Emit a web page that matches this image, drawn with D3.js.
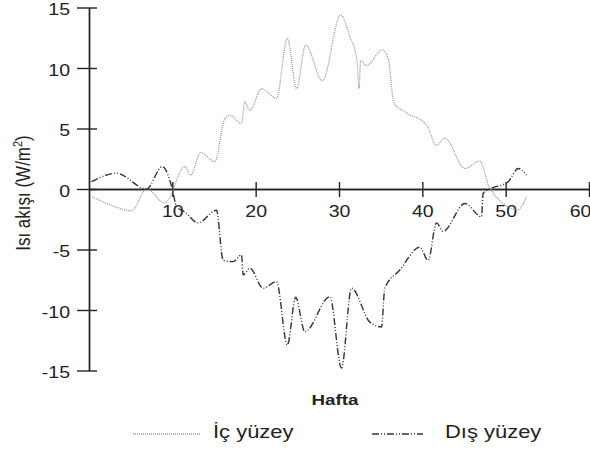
<!DOCTYPE html>
<html>
<head>
<meta charset="utf-8">
<script src="https://cdn.jsdelivr.net/npm/d3@7"></script>
<style>
  body { margin: 0; background: #fff; }
  text { font-family: "Liberation Sans", Arial, sans-serif; fill: #222; }
</style>
</head>
<body>
<div id="chart"></div>
<script>
// week positions and values
var innerWeeks = [0.4, 2.5, 5.1, 6.9, 9.1, 11.5, 12.2, 13.4, 15.1, 16.3, 16.9, 18.3, 18.7, 19.3, 20.7, 22.5, 23.8, 24.9, 26.0, 28.0, 30.2, 31.3, 32.15, 32.4, 32.6, 33.3, 35.2, 35.9, 36.6, 38.1, 40.5, 41.7, 42.7, 45.1, 46.9, 48.1, 51.5, 52.5];
var innerVals  = [-0.66, -1.3, -1.8, 0, -1.15, 1.85, 1.15, 3.0, 2.26, 5.8, 6.1, 5.4, 7.2, 6.5, 8.3, 7.5, 12.45, 8.3, 11.9, 8.95, 14.4, 12.6, 10.7, 8.3, 10.6, 10.2, 11.5, 10.8, 7.1, 6.3, 5.3, 3.6, 4.2, 1.7, 2.3, 0.05, -1.7, -0.6];

var outerWeeks = [0.3, 3.3, 6.9, 8.8, 10.0, 10.5, 11.5, 13.1, 15.3, 16.1, 17.3, 18.3, 18.5, 19.3, 20.9, 22.5, 23.8, 24.8, 25.9, 28.9, 30.3, 31.5, 33.7, 35.1, 35.5, 37.3, 39.7, 40.7, 41.7, 42.5, 45.1, 47.1, 47.3, 48.1, 50.3, 51.5, 52.5];
var outerVals  = [0.6, 1.3, 0, 1.85, 0, -1.45, -1.9, -2.8, -1.75, -5.9, -6.0, -5.45, -7.1, -6.55, -8.2, -7.65, -12.9, -8.95, -11.8, -8.9, -14.8, -8.2, -11.0, -11.4, -8.2, -6.7, -4.8, -5.9, -2.8, -3.5, -1.2, -2.3, -0.35, 0, 0.6, 1.7, 1.15];

var xTicks = [10, 20, 30, 40, 50, 60];
var yTicks = [-15, -10, -5, 0, 5, 10, 15];
var seriesNames = ["İç yüzey", "Dış yüzey"];

function init() {
	var w = 590;
	var h = 450;
	var sx = 1.22; // text in the picture is a bit wide

	var xScale = d3.scaleLinear().domain([0, 60]).range([89, 589]);
	var yScale = d3.scaleLinear().domain([-15, 15]).range([370.5, 7.5]);

	var svg = d3.select("#chart")
				.append("svg")
				.attr("width", w)
				.attr("height", h);

	// y axis: labels on the left, short ticks on the right too
	var gy = svg.append("g")
		.attr("transform", "translate(" + xScale(0) + ",0)")
		.call(d3.axisLeft(yScale).tickValues(yTicks).tickSize(12).tickSizeOuter(0)
			.tickFormat(function(d) { return String(d); }));
	gy.selectAll("text")
		.attr("x", -19 / sx)
		.attr("dy", "0.45em")
		.attr("transform", "scale(" + sx + ",1)");
	svg.append("g")
		.attr("transform", "translate(" + xScale(0) + ",0)")
		.call(d3.axisRight(yScale).tickValues(yTicks).tickSize(8).tickSizeOuter(0).tickFormat(""));

	// x axis through zero
	var gx = svg.append("g")
		.attr("transform", "translate(0," + yScale(0) + ")")
		.call(d3.axisBottom(xScale).tickValues(xTicks).tickSize(8).tickSizeOuter(0));
	gx.selectAll("text")
		.attr("y", 28)
		.attr("dy", 0)
		.attr("x", function(d) { return d == 60 ? -9 / sx : 0; })
		.attr("transform", "scale(" + sx + ",1)");
	svg.append("g")
		.attr("transform", "translate(0," + yScale(0) + ")")
		.call(d3.axisTop(xScale).tickValues(xTicks).tickSize(7).tickSizeOuter(0).tickFormat(""));

	svg.selectAll(".domain, .tick line")
		.attr("stroke", "#222")
		.attr("stroke-width", 1.4);
	svg.selectAll(".tick text")
		.attr("font-size", 16)
		.attr("font-family", "Liberation Sans, Arial, sans-serif")
		.attr("fill", "#222");

	var line = d3.line()
		.x(function(d) { return xScale(d[0]); })
		.y(function(d) { return yScale(d[1]); })
		.curve(d3.curveMonotoneX);

	var innerData = d3.zip(innerWeeks, innerVals);
	var outerData = d3.zip(outerWeeks, outerVals);

	svg.append("path")
		.datum(innerData)
		.attr("d", line)
		.attr("fill", "none")
		.attr("stroke", "#999")
		.attr("stroke-width", 1.3)
		.attr("stroke-dasharray", "1,1");

	svg.append("path")
		.datum(outerData)
		.attr("d", line)
		.attr("fill", "none")
		.attr("stroke", "#333")
		.attr("stroke-width", 1.4)
		.attr("stroke-dasharray", "7,2,1,2,1,2");

	// axis titles
	svg.append("text")
		.attr("transform", "translate(335,405) scale(1.25,1)")
		.attr("text-anchor", "middle")
		.attr("font-size", 15)
		.attr("font-weight", "bold")
		.text("Hafta");

	var yt = svg.append("text")
		.attr("transform", "translate(30,193) rotate(-90) scale(1,1.15)")
		.attr("text-anchor", "middle")
		.attr("font-size", 17);
	yt.append("tspan").text("Isı akışı (W/m");
	yt.append("tspan").attr("font-size", 11).attr("dy", -7).text("2");
	yt.append("tspan").attr("dy", 7).text(")");

	// legend
	svg.append("line")
		.attr("x1", 133).attr("x2", 200).attr("y1", 434).attr("y2", 434)
		.attr("stroke", "#999").attr("stroke-width", 1.3).attr("stroke-dasharray", "1,1");
	svg.append("text")
		.attr("transform", "translate(213,438) scale(" + sx + ",1)")
		.attr("font-size", 18)
		.text(seriesNames[0]);

	svg.append("line")
		.attr("x1", 372).attr("x2", 423).attr("y1", 434).attr("y2", 434)
		.attr("stroke", "#333").attr("stroke-width", 1.4).attr("stroke-dasharray", "7,2,1,2,1,2");
	svg.append("text")
		.attr("transform", "translate(445,438) scale(" + sx + ",1)")
		.attr("font-size", 18)
		.text(seriesNames[1]);
}

window.onload = init;
</script>
</body>
</html>
